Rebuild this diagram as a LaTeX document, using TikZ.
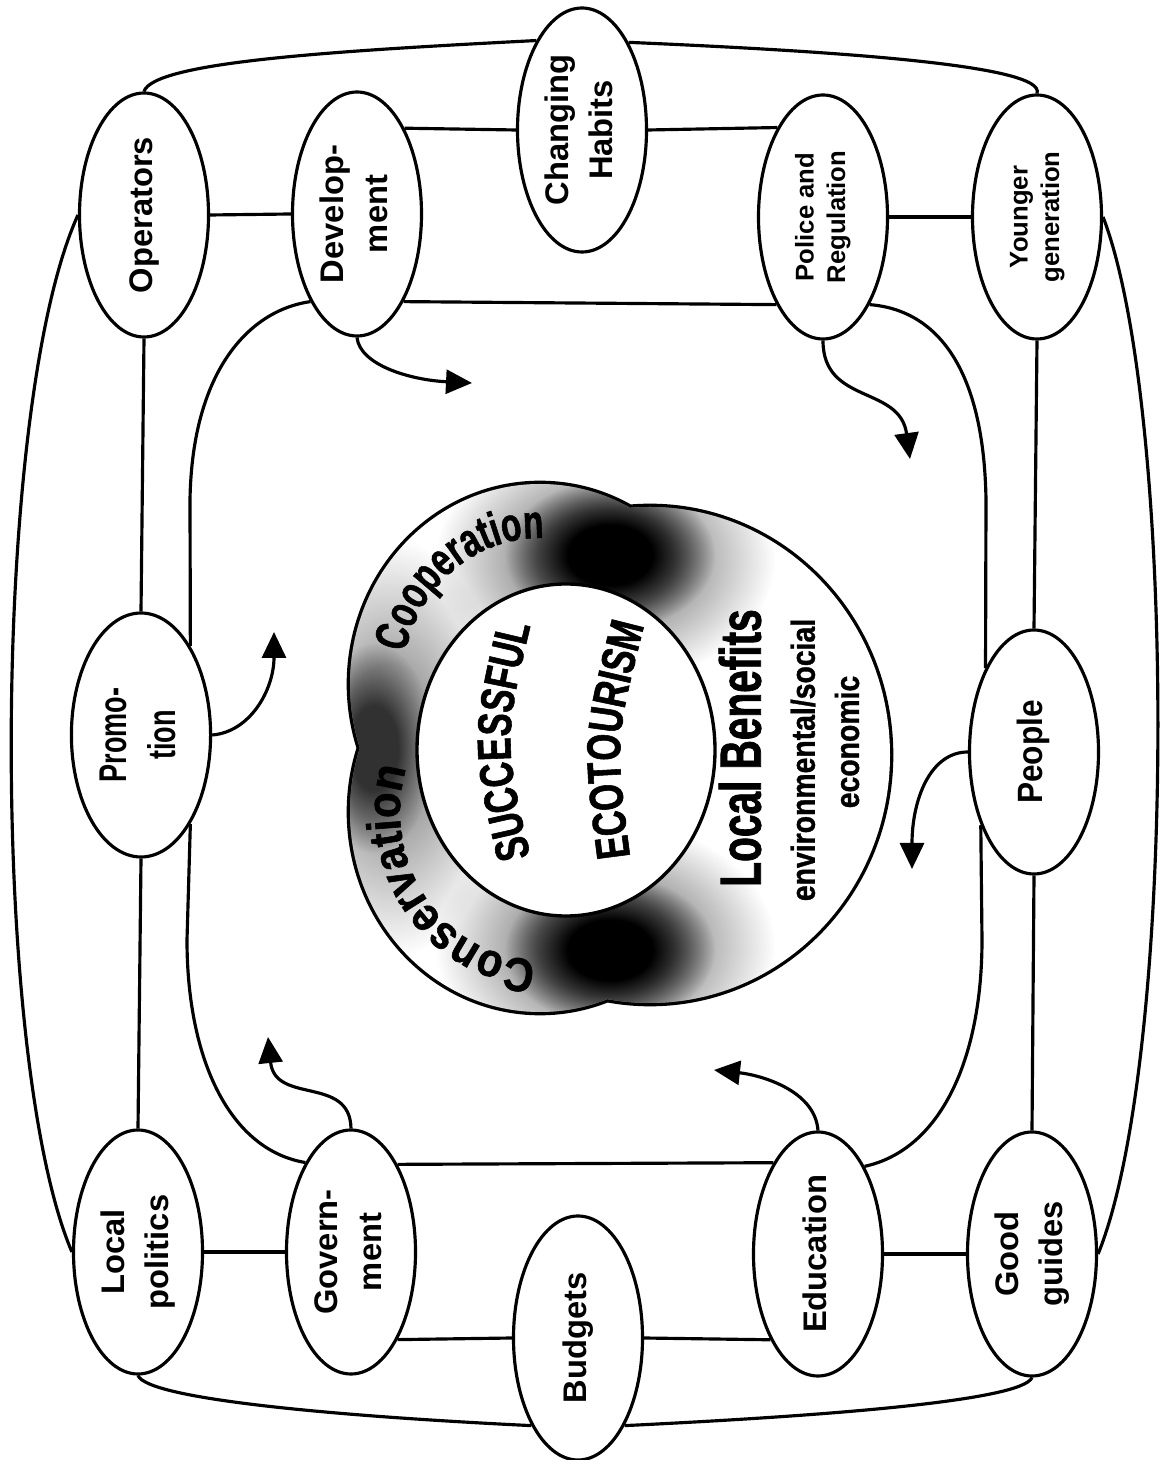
\documentclass[tikz,border=0pt]{standalone}
\usepackage{graphicx}
\usepackage{fontspec}
\setmainfont{Liberation Sans}
\newfontfamily\narrowA{Liberation Sans}[FakeStretch=0.70]
\newfontfamily\narrowD{Liberation Sans}[FakeStretch=0.90]
\newfontfamily\heavyA{Liberation Sans Bold}[FakeStretch=0.70, FakeBold=1.2]
\newfontfamily\heavyB{Liberation Sans Bold}[FakeStretch=0.73, FakeBold=1.2]
\newfontfamily\heavyC{Liberation Sans Bold}[FakeStretch=0.85, FakeBold=1.0]
\newfontfamily\heavyD{Liberation Sans Bold}[FakeStretch=0.88, FakeBold=1.2]
\usetikzlibrary{shapes.geometric,arrows.meta,decorations.text,fadings,backgrounds,calc}

% soft dark patch used where the rings meet
\pgfdeclareradialshading{junctionshade}{\pgfpointorigin}{color(0bp)=(white); color(10bp)=(white); color(25bp)=(black); color(50bp)=(black)}
\pgfdeclarefading{junction}{\pgfuseshading{junctionshade}}

% label set upright (reading bottom to top) inside an oval
\newcommand\vlab[1]{\rotatebox{90}{\begin{tabular}{@{}c@{}}#1\end{tabular}}}
\newcommand\coopfont{\heavyA\fontsize{13.5}{14}\selectfont}
\newcommand\consfont{\heavyD\fontsize{13.5}{14}\selectfont}
\newcommand\corefont{\heavyB\fontsize{13.5}{14}\selectfont}

\begin{document}
\begin{tikzpicture}[
  oval/.style={draw, ellipse, fill=white, line width=0.9pt,
    minimum width=1.29cm, minimum height=2.44cm, inner sep=0pt,
    font=\bfseries\fontsize{9.3}{12.5}\selectfont},
  small oval/.style={oval, font=\bfseries\fontsize{7.3}{9}\selectfont},
  link/.style={line width=0.9pt},
  pointer/.style={line width=0.9pt, -{Triangle[length=0.26cm,width=0.24cm]}},
]
\useasboundingbox (0,0) rectangle (11.59,14.60);

% ---- factor ovals ----
\node[oval] (ops) at (1.44,12.45) {\vlab{Operators}};
\node[oval] (dev) at (3.57,12.46) {\vlab{Develop-\\ment}};
\node[oval] (chg) at (5.82,13.30) {\vlab{Changing\\Habits}};
\node[small oval] (pol) at (8.23,12.43) {\vlab{Police and\\Regulation}};
\node[small oval] (yng) at (10.37,12.43) {\vlab{Younger\\generation}};
\node[oval, font=\narrowA\bfseries\fontsize{11}{14}\selectfont] (pro) at (1.41,7.25) {\vlab{Promo-\\tion}};
\node[oval, font=\narrowD\bfseries\fontsize{10}{12}\selectfont] (ppl) at (10.34,7.08) {\vlab{People}};
\node[oval] (loc) at (1.38,2.08) {\vlab{Local\\politics}};
\node[oval] (gov) at (3.51,2.08) {\vlab{Govern-\\ment}};
\node[oval] (bud) at (5.78,1.22) {\vlab{Budgets}};
\node[oval] (edu) at (8.18,2.06) {\vlab{Education}};
\node[oval] (gdg) at (10.32,2.06) {\vlab{Good\\guides}};

% ---- connecting frame, behind the ovals ----
\begin{scope}[on background layer]
  \fill[white] (0,0) rectangle (11.59,14.60);
  % outer ring
  \draw[link] (ops.north) .. controls (1.54,13.98) and (3.33,14.09) .. (chg.117.5);
  \draw[link] (chg.62.5) .. controls (8.31,14.09) and (10.47,13.95) .. (yng.north);
  \draw[link] (ops.west) .. controls (-0.10,10.5) and (-0.10,4.0) .. (loc.west);
  \draw[link] (yng.east) .. controls (11.77,10.5) and (11.77,4.0) .. (gdg.east);
  \draw[link] (loc.south) .. controls (1.48,0.61) and (3.33,0.44) .. (bud.242.2);
  \draw[link] (bud.-62.2) .. controls (8.24,0.44) and (10.22,0.59) .. (gdg.south);
  % straight ties
  \draw[link] (ops.east) -- (dev.west);
  \draw[link] (dev.61.6) -- (chg.west);
  \draw[link] (chg.east) -- (pol.117);
  \draw[link] (pol.east) -- (yng.west);
  \draw[link] (loc.east) -- (gov.west);
  \draw[link] (gov.-62.5) -- (bud.west);
  \draw[link] (bud.east) -- (edu.241.4);
  \draw[link] (edu.east) -- (gdg.west);
  \draw[link] (ops.south) -- (pro.north);
  \draw[link] (pro.south) -- (loc.north);
  \draw[link] (yng.south) -- (ppl.north);
  \draw[link] (ppl.south) -- (gdg.north);
  % inner rounded loop
  \draw[link] (dev.-62.5) -- (pol.242);
  \draw[link] (pol.-62) .. controls (9.38,11.50) and (9.84,10.90) .. (9.86,9.60) -- (ppl.120.5);
  \draw[link] (ppl.234) -- (9.82,5.20) .. controls (9.82,4.00) and (9.40,3.10) .. (edu.62.5);
  \draw[link] (edu.116.4) -- (gov.62.5);
  \draw[link] (gov.117.5) .. controls (2.30,3.10) and (1.87,4.00) .. (1.87,5.20) -- (pro.-61);
  \draw[link] (pro.61) -- (1.90,9.60) .. controls (1.92,10.90) and (2.50,11.50) .. (dev.242.5);
\end{scope}

% ---- arrows pointing inward ----
\coordinate (devT) at (4.72,10.77);
\coordinate (polT) at (9.10,10.01);
\coordinate (proT) at (2.74,8.28);
\coordinate (pplT) at (9.12,5.91);
\coordinate (govT) at (2.68,4.23);
\coordinate (eduT) at (7.14,3.90);
\draw[pointer] (dev.south) .. controls (3.60,10.95) and (4.10,10.80) .. (devT);
\draw[pointer] (pol.south) .. controls (8.23,10.55) and (9.00,10.75) .. (polT);
\draw[pointer] (pro.east) .. controls (2.50,7.28) and (2.74,7.70) .. (proT);
\draw[pointer] (ppl.west) .. controls (9.30,7.08) and (9.12,6.60) .. (pplT);
\draw[pointer] (gov.north) .. controls (3.50,3.85) and (2.75,3.55) .. (govT);
\draw[pointer] (edu.north) .. controls (8.15,3.70) and (7.60,3.85) .. (eduT);

% ---- central three-ring emblem ----
\coordinate (coopC) at (5.40,7.76);
\coordinate (consC) at (5.40,6.48);
\coordinate (benC) at (6.50,7.05);
\coordinate (coreC) at (5.66,7.10);
\draw[line width=1.9pt] (coopC) ellipse [x radius=1.90, y radius=2.00]
                        (consC) ellipse [x radius=1.90, y radius=2.00]
                        (benC) ellipse [x radius=2.40, y radius=2.48];
\fill[white] (coopC) ellipse [x radius=1.90, y radius=2.00]
             (consC) ellipse [x radius=1.90, y radius=2.00]
             (benC) ellipse [x radius=2.40, y radius=2.48];
\begin{scope}
  \clip (coopC) ellipse [x radius=1.90, y radius=2.00]
        (consC) ellipse [x radius=1.90, y radius=2.00]
        (benC) ellipse [x radius=2.40, y radius=2.48];
  % wide grey fringes
  \fill[black, opacity=0.35, path fading=junction] (3.90,7.12) ellipse [x radius=1.2, y radius=2.1];
  \fill[black, opacity=0.45, path fading=junction] (6.05,9.00) ellipse [x radius=1.7, y radius=1.25];
  \fill[black, opacity=0.45, path fading=junction] (6.05,5.15) ellipse [x radius=1.7, y radius=1.25];
  % dense cores
  \fill[black, opacity=0.7, path fading=junction] (3.74,7.12) ellipse [x radius=0.6, y radius=1.05];
  \fill[black, path fading=junction] (6.10,9.05) ellipse [x radius=1.05, y radius=0.75];
  \fill[black, path fading=junction] (6.10,5.10) ellipse [x radius=1.05, y radius=0.75];
\end{scope}
\filldraw[fill=white, line width=0.95pt] (coreC) ellipse [x radius=1.49, y radius=1.66];

\path[decorate, decoration={text along path, text={|\coopfont|Cooperation}, text align=center}]
  ($(coopC)+(185:1.38 and 1.46)$) arc [start angle=185, end angle=70, x radius=1.38, y radius=1.46];
\path[decorate, decoration={text along path, text={|\consfont|Conservation}, text align=center}]
  ($(consC)+(292:1.40 and 1.48)$) arc [start angle=292, end angle=140, x radius=1.40, y radius=1.48];
\path[decorate, decoration={text along path, text={|\corefont|SUCCESSFUL}, text align=center}]
  (5.33,5.93) .. controls (5.03,7.19) .. (5.33,8.45);
\path[decorate, decoration={text along path, text={|\corefont|ECOTOURISM}, text align=center}]
  (6.30,6.04) .. controls (6.15,7.19) .. (6.44,8.34);

\node[rotate=90, inner sep=0pt, font=\heavyA\fontsize{16.5}{18}\selectfont] (bentitle) at (7.40,7.12) {Local Benefits};
\node[rotate=90, inner sep=0pt, font=\heavyC\fontsize{9.5}{11}\selectfont] (bensub) at (8.03,7.00) {environmental/social};
\node[rotate=90, inner sep=0pt, font=\heavyC\fontsize{9.5}{11}\selectfont] (benecon) at (8.47,7.18) {economic};
\end{tikzpicture}
\end{document}
